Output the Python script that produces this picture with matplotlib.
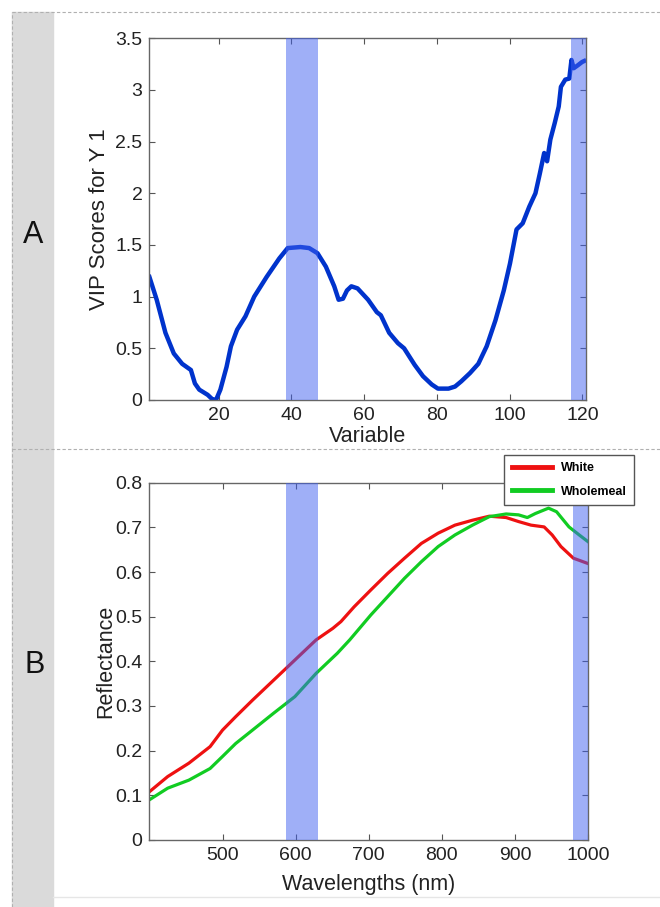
import numpy as np
import matplotlib
matplotlib.use("Agg")
import matplotlib.pyplot as plt
from matplotlib.patches import Rectangle
from matplotlib.lines import Line2D

plt.rcParams['font.family'] = ['Liberation Sans', 'DejaVu Sans']

# Panel A: VIP scores (variable index, score)
vip_var = [1, 3, 5.4, 7.7, 10, 12.4, 13.5, 14.7, 17, 18.2, 19.3, 20.5, 22.2, 23.4, 25.1,
           27.4, 29.8, 33.2, 36.7, 39, 42.5, 44.9, 47.2, 49.5, 51.8, 53, 54.2, 55.3,
           56.5, 58.2, 61.1, 63.5, 64.6, 66.9, 69.3, 71, 73.9, 76.2, 78.6, 80.3, 83.2,
           85, 86.7, 89.1, 91.4, 93.7, 96.1, 98.4, 100.1, 101.9, 103.6, 105.4, 107.1,
           108.3, 109.5, 110.3, 111.2, 112.4, 113.5, 114.1, 115.3, 116.4, 117, 117.6,
           118.8, 119.9, 120.5]
vip_score = [1.19, 0.97, 0.65, 0.45, 0.35, 0.29, 0.16, 0.10, 0.05, 0.01, 0.0, 0.10, 0.32,
             0.52, 0.68, 0.81, 1.00, 1.19, 1.37, 1.47, 1.48, 1.47, 1.42, 1.29, 1.10, 0.97,
             0.98, 1.06, 1.10, 1.08, 0.97, 0.85, 0.82, 0.65, 0.55, 0.50, 0.34, 0.23, 0.15,
             0.11, 0.11, 0.13, 0.18, 0.26, 0.35, 0.52, 0.77, 1.06, 1.32, 1.65, 1.71, 1.87,
             2.00, 2.19, 2.39, 2.31, 2.52, 2.68, 2.84, 3.03, 3.10, 3.11, 3.29, 3.21, 3.24,
             3.27, 3.28]
vip_bands = [(38.5, 47.3), (117, 121)]

# Panel B: mean reflectance spectra
white_nm = [400, 425, 454, 483, 500, 518, 541, 570, 599, 628, 651, 662, 680, 703, 726,
            749, 772, 795, 818, 842, 865, 888, 905, 922, 940, 951, 963, 980, 1000]
white_refl = [0.108, 0.142, 0.172, 0.209, 0.246, 0.276, 0.313, 0.358, 0.403, 0.448, 0.474,
              0.489, 0.522, 0.560, 0.597, 0.631, 0.664, 0.687, 0.705, 0.716, 0.725, 0.722,
              0.713, 0.705, 0.701, 0.683, 0.657, 0.631, 0.619]
whole_nm = [400, 425, 454, 483, 500, 518, 541, 570, 599, 628, 657, 674, 703, 726, 749,
            772, 795, 818, 842, 865, 888, 905, 917, 928, 946, 957, 974, 988, 1000]
whole_refl = [0.090, 0.116, 0.134, 0.160, 0.187, 0.216, 0.246, 0.284, 0.321, 0.373, 0.418,
              0.448, 0.504, 0.545, 0.586, 0.623, 0.657, 0.683, 0.705, 0.724, 0.730, 0.728,
              0.722, 0.731, 0.743, 0.735, 0.701, 0.683, 0.668]
nm_bands = [(587.5, 630), (979, 1000)]

band_color = '#4060f0'
tick_fs = 14
label_fs = 15.5

fig = plt.figure(figsize=(6.6, 9.07), dpi=100)

# page decoration: grey side strip and dashed frame
fig.patches.append(Rectangle((12 / 660, 0), 41 / 660, 1 - 12 / 907,
                             transform=fig.transFigure, color='#dadada', zorder=0))
for y in [1 - 12 / 907, 1 - 449 / 907]:
    fig.lines.append(Line2D([12 / 660, 1], [y, y], transform=fig.transFigure,
                            color='#b0b0b0', lw=0.8, ls=(0, (3, 2))))
fig.lines.append(Line2D([12 / 660, 12 / 660], [0, 1 - 12 / 907], transform=fig.transFigure,
                        color='#b0b0b0', lw=0.8, ls=(0, (3, 2))))
fig.lines.append(Line2D([53 / 660, 1], [1 - 897 / 907, 1 - 897 / 907], transform=fig.transFigure,
                        color='#e6e6e6', lw=1.0))

fig.text(33 / 660, 1 - 235 / 907, 'A', fontsize=22, ha='center', va='center', color='#111111')
fig.text(35 / 660, 1 - 665 / 907, 'B', fontsize=22, ha='center', va='center', color='#111111')


def style_axes(ax):
    for s in ax.spines.values():
        s.set_color('#666666')
        s.set_linewidth(1.0)
    ax.tick_params(direction='in', top=True, right=True, length=4, width=0.8,
                   colors='#555555', labelcolor='#222222', labelsize=tick_fs, pad=5)
    ax.xaxis.set_major_formatter(plt.FormatStrFormatter('%g'))
    ax.yaxis.set_major_formatter(plt.FormatStrFormatter('%g'))


# Panel A
axA = fig.add_axes([0.2264, 0.559, 0.6615, 0.3988])
axA.plot(vip_var, vip_score, color='#0033cc', lw=3.2, zorder=2)
for a, b in vip_bands:
    axA.axvspan(a, b, color=band_color, alpha=0.5, lw=0, zorder=3)
axA.set_xlim(1, 121)
axA.set_ylim(0, 3.5)
axA.set_xticks([20, 40, 60, 80, 100, 120])
axA.set_yticks(np.arange(0, 3.51, 0.5))
style_axes(axA)
axA.set_xlabel('Variable', fontsize=label_fs, color='#222222')
axA.set_ylabel('VIP Scores for Y 1', fontsize=label_fs + 0.5, color='#222222')
axA.xaxis.set_label_coords(0.5, -0.072)
axA.yaxis.set_label_coords(-0.091, 0.5)

# Panel B
axB = fig.add_axes([0.2264, 0.0739, 0.6645, 0.3939])
axB.plot(white_nm, white_refl, color='#ee1111', lw=2.3, label='White', zorder=2)
axB.plot(whole_nm, whole_refl, color='#11cc22', lw=2.3, label='Wholemeal', zorder=2)
for a, b in nm_bands:
    axB.axvspan(a, b, color=band_color, alpha=0.5, lw=0, zorder=3)
axB.set_xlim(400, 1000)
axB.set_ylim(0, 0.8)
axB.set_xticks([500, 600, 700, 800, 900, 1000])
axB.set_yticks(np.arange(0, 0.81, 0.1))
style_axes(axB)
axB.set_xlabel('Wavelengths (nm)', fontsize=label_fs, color='#222222')
axB.set_ylabel('Reflectance', fontsize=label_fs, color='#222222')
axB.xaxis.set_label_coords(0.5, -0.095)
axB.yaxis.set_label_coords(-0.076, 0.5)
leg = axB.legend(loc='upper right', bbox_to_anchor=(634 / 660, 1 - 455 / 907),
                 bbox_transform=fig.transFigure, borderaxespad=0, fancybox=False,
                 framealpha=1, edgecolor='#555555', handlelength=3.2, handletextpad=0.7,
                 borderpad=0.6, labelspacing=0.9, prop={'size': 9, 'weight': 'bold'})
leg.get_frame().set_linewidth(1.0)
for line in leg.get_lines():
    line.set_linewidth(3.5)
leg.set_zorder(5)

fig.savefig('out.png', dpi=100)
